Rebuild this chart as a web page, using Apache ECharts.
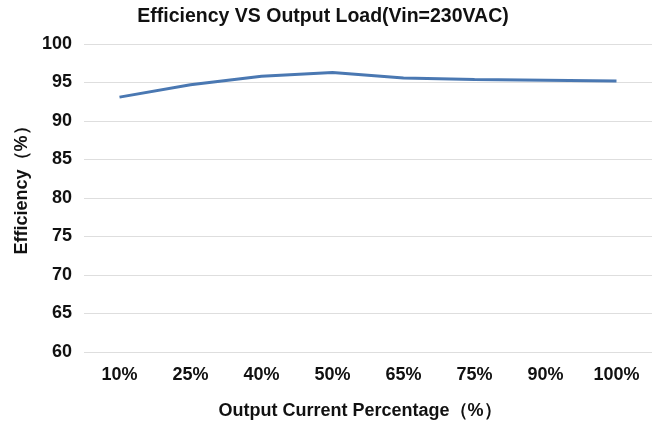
<!DOCTYPE html>
<html><head><meta charset="utf-8">
<script src="https://cdn.jsdelivr.net/npm/echarts@6/dist/echarts.min.js"></script>
<style>html,body{margin:0;padding:0;background:#fff}#c{width:660px;height:423px}</style>
</head><body><div id="c"></div>
<script>
const categories = ['10%','25%','40%','50%','65%','75%','90%','100%'];
const efficiency = [93.1, 94.7, 95.8, 96.3, 95.6, 95.4, 95.3, 95.2];
const yTicks = {min: 60, max: 100, interval: 5};

const chart = echarts.init(document.getElementById('c'));
const font = 'Liberation Sans, Arial, sans-serif';
chart.setOption({
  animation: false,
  title: {
    text: 'Efficiency VS Output Load(Vin=230VAC)',
    left: 318, top: 2, textAlign: 'center',
    textStyle: {fontFamily: font, fontWeight: 'bold', fontSize: 19.5, color: '#111'}
  },
  grid: {left: 84, right: 8, top: 44, bottom: 71, outerBoundsMode: 'none', containLabel: false},
  xAxis: {
    type: 'category', data: categories, boundaryGap: true,
    axisLine: {show: false}, axisTick: {show: false},
    axisLabel: {margin: 14, fontFamily: font, fontWeight: 'bold', fontSize: 18, color: '#111'},
    name: 'Output Current Percentage（%）', nameLocation: 'middle', nameGap: 50,
    nameTextStyle: {fontFamily: font, fontWeight: 'bold', fontSize: 18, color: '#111', padding: [0, 16, 0, 0]}
  },
  yAxis: {
    type: 'value', min: yTicks.min, max: yTicks.max, interval: yTicks.interval,
    axisLine: {show: false}, axisTick: {show: false},
    splitLine: {lineStyle: {color: '#dedede', width: 1}},
    axisLabel: {margin: 12, fontFamily: font, fontWeight: 'bold', fontSize: 18, color: '#111'},
    name: 'Efficiency（%）', nameLocation: 'middle', nameGap: 48, nameRotate: 90,
    nameTextStyle: {fontFamily: font, fontWeight: 'bold', fontSize: 18, color: '#111', padding: [0, 0, 0, 24]}
  },
  series: [{
    type: 'line', data: efficiency, showSymbol: false, symbol: 'none',
    lineStyle: {color: '#4a78b2', width: 3}
  }]
});
</script></body></html>
